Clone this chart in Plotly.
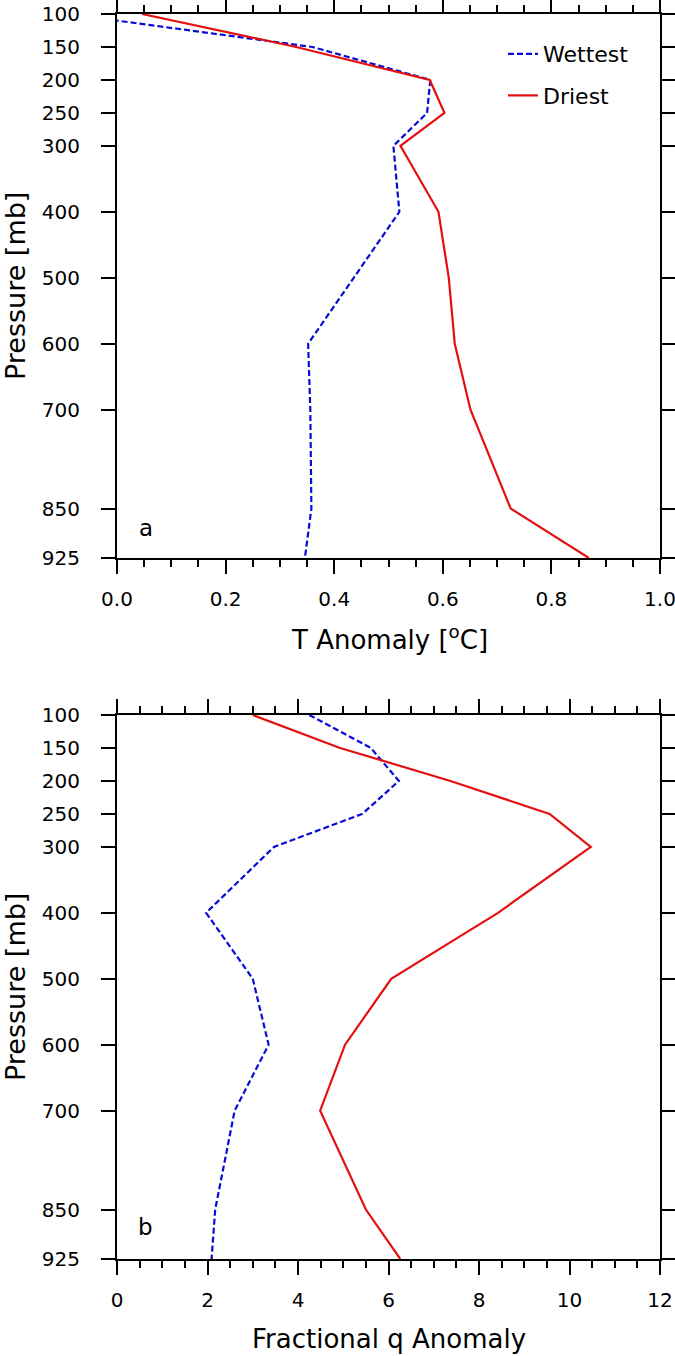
import plotly.graph_objects as go

# ---- data ----
pressure = [100, 150, 200, 250, 300, 400, 500, 600, 700, 850, 925]
t_wettest = [-0.09, 0.36, 0.577, 0.571, 0.509, 0.52, 0.436, 0.352, 0.356, 0.358, 0.346]
t_driest = [0.046, 0.33, 0.576, 0.603, 0.522, 0.592, 0.611, 0.622, 0.651, 0.725, 0.869]
q_wettest = [4.25, 5.61, 6.23, 5.42, 3.47, 1.97, 3.00, 3.35, 2.60, 2.17, 2.09]
q_driest = [3.00, 4.93, 7.37, 9.56, 10.47, 8.42, 6.06, 5.04, 4.49, 5.50, 6.26]

pressure_ticks = [100, 150, 200, 250, 300, 400, 500, 600, 700, 850, 925]
t_ticks = [0.0, 0.2, 0.4, 0.6, 0.8, 1.0]
t_ticklabels = ["0.0", "0.2", "0.4", "0.6", "0.8", "1.0"]
q_ticks = [0, 2, 4, 6, 8, 10, 12]
q_ticklabels = ["0", "2", "4", "6", "8", "10", "12"]

series_names = ["Wettest", "Driest"]
BLUE = "#0a0ad8"
RED = "#e41010"
FONT = "DejaVu Sans"

W, H = 675, 1356
fig = go.Figure()

fig.add_trace(go.Scatter(x=t_wettest, y=pressure, mode="lines", name=series_names[0],
                         line=dict(color=BLUE, width=2.2, dash="6px,3px"),
                         legendgroup="w", xaxis="x", yaxis="y"))
fig.add_trace(go.Scatter(x=t_driest, y=pressure, mode="lines", name=series_names[1],
                         line=dict(color=RED, width=2.2),
                         legendgroup="d", xaxis="x", yaxis="y"))
fig.add_trace(go.Scatter(x=q_wettest, y=pressure, mode="lines", name=series_names[0],
                         line=dict(color=BLUE, width=2.2, dash="6px,3px"),
                         showlegend=False, xaxis="x2", yaxis="y2"))
fig.add_trace(go.Scatter(x=q_driest, y=pressure, mode="lines", name=series_names[1],
                         line=dict(color=RED, width=2.2),
                         showlegend=False, xaxis="x2", yaxis="y2"))

xdom = [117 / W, 660 / W]
ydom_top = [1 - 558 / H, 1 - 14 / H]
ydom_bot = [1 - 1259 / H, 1 - 715 / H]

common_x = dict(
    showgrid=False, zeroline=False, showline=True, linecolor="black", linewidth=2,
    mirror="ticks", ticks="outside", ticklen=14, tickwidth=2, tickcolor="black",
    tickfont=dict(family=FONT, size=20, color="black"),
    domain=xdom, automargin=False, ticklabeloverflow="allow", ticklabelstandoff=8,
)
common_y = dict(
    showgrid=False, zeroline=False, showline=True, linecolor="black", linewidth=2,
    mirror="ticks", ticks="outside", ticklen=14, tickwidth=2, tickcolor="black",
    tickfont=dict(family=FONT, size=20, color="black"),
    tickmode="array", tickvals=pressure_ticks, ticktext=[str(p) for p in pressure_ticks],
    range=[925, 100], automargin=False, ticklabelstandoff=17, ticklabeloverflow="allow",
)

fig.update_layout(
    width=W, height=H,
    margin=dict(l=0, r=0, t=0, b=0, autoexpand=False),
    paper_bgcolor="white", plot_bgcolor="white",
    font=dict(family=FONT, color="black"),
    xaxis=dict(common_x, anchor="y", range=[0, 1], tickmode="array",
               tickvals=t_ticks, ticktext=t_ticklabels,
               minor=dict(tickmode="linear", tick0=0, dtick=0.05, ticks="outside", ticklen=7,
                          tickwidth=1.5, tickcolor="black", showgrid=False)),
    yaxis=dict(common_y, anchor="x", domain=ydom_top),
    xaxis2=dict(common_x, anchor="y2", range=[0, 12], tickmode="array",
                tickvals=q_ticks, ticktext=q_ticklabels,
                minor=dict(tickmode="linear", tick0=0, dtick=0.5, ticks="outside", ticklen=7,
                           tickwidth=1.5, tickcolor="black", showgrid=False)),
    yaxis2=dict(common_y, anchor="x2", domain=ydom_bot),
    showlegend=True,
    legend=dict(x=503 / W, y=1 - 33 / H, xanchor="left", yanchor="top",
                bgcolor="rgba(0,0,0,0)", borderwidth=0,
                font=dict(family=FONT, size=22, color="black"),
                tracegroupgap=10, itemwidth=30),
)

annotations = [
    dict(text="T Anomaly [<sup>o</sup>C]", x=389 / W, y=1 - 638 / H, xref="paper", yref="paper",
         showarrow=False, font=dict(family=FONT, size=26), xanchor="center", yanchor="middle"),
    dict(text="Fractional q Anomaly", x=389 / W, y=1 - 1339 / H, xref="paper", yref="paper",
         showarrow=False, font=dict(family=FONT, size=26), xanchor="center", yanchor="middle"),
    dict(text="Pressure [mb]", x=15 / W, y=1 - 286 / H, xref="paper", yref="paper", textangle=-90,
         showarrow=False, font=dict(family=FONT, size=27), xanchor="center", yanchor="middle"),
    dict(text="Pressure [mb]", x=15 / W, y=1 - 987 / H, xref="paper", yref="paper", textangle=-90,
         showarrow=False, font=dict(family=FONT, size=27), xanchor="center", yanchor="middle"),
    dict(text="a", x=145.5 / W, y=1 - 528 / H, xref="paper", yref="paper",
         showarrow=False, font=dict(family=FONT, size=23), xanchor="center", yanchor="middle"),
    dict(text="b", x=145.5 / W, y=1 - 1227 / H, xref="paper", yref="paper",
         showarrow=False, font=dict(family=FONT, size=23), xanchor="center", yanchor="middle"),
]
fig.update_layout(annotations=annotations)

fig.write_html(
    "out.html",
    config={"displayModeBar": False},
    post_script="document.body.style.margin='0';document.body.style.padding='0';"
                "document.documentElement.style.overflow='hidden';",
)
